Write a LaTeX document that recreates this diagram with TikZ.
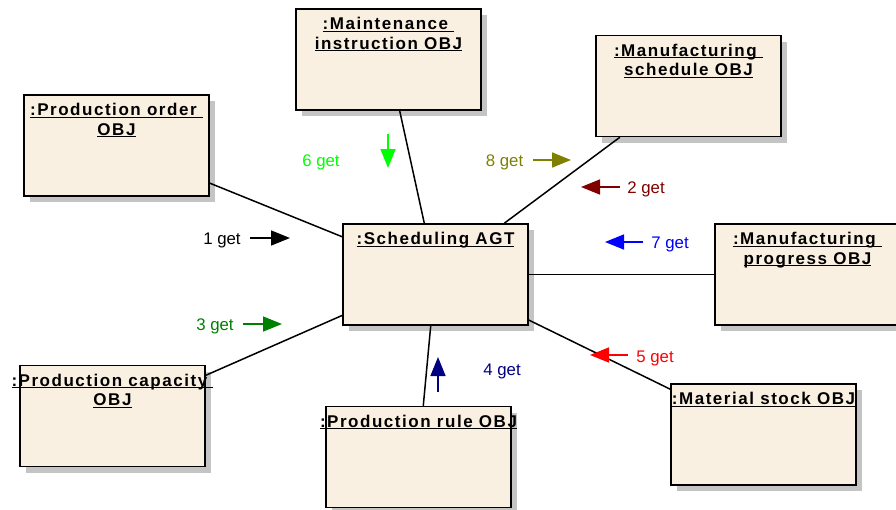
\documentclass[tikz,border=0pt]{standalone}
\usepackage{fontspec}
\setmainfont{Liberation Sans}
\newfontfamily\titlefont{Liberation Sans}[LetterSpace=9]
\usetikzlibrary{shadows,arrows.meta}

\definecolor{objfill}{HTML}{FAF0E2}
\definecolor{objshadow}{HTML}{C4C4C4}
\definecolor{msgdarkred}{HTML}{800000}
\definecolor{msggreen}{HTML}{008000}
\definecolor{msgnavy}{HTML}{000080}
\definecolor{msgred}{HTML}{FF0000}
\definecolor{msglime}{HTML}{00FF00}
\definecolor{msgblue}{HTML}{0000FF}
\definecolor{msgolive}{HTML}{808000}

% underline set slightly below the baseline, crossing descenders
\newcommand\objul[1]{\setbox0=\hbox{#1}\rlap{\rule[-2.2pt]{\wd0}{1.3pt}}\box0}

\tikzset{
  objbox/.style={rectangle, draw=black, line width=1.5pt, fill=objfill,
    minimum width=185pt, minimum height=101pt, inner sep=0pt,
    drop shadow={shadow xshift=6pt, shadow yshift=-6pt, fill=objshadow, opacity=1}},
  objtitle/.style={anchor=north, align=center, inner sep=0pt,
    font=\titlefont\bfseries\fontsize{17}{19.5}\selectfont},
  link/.style={draw=black, line width=1.5pt},
  msglabel/.style={anchor=base, inner sep=0pt, font=\fontsize{16.8}{20}\selectfont},
  msgarrow/.style={line width=1.6pt, -{Triangle[length=19pt, width=15pt]}},
}

\begin{document}
\begin{tikzpicture}[x=1pt, y=-1pt]
\useasboundingbox (0,0) rectangle (896,509);

% object boxes
\node[objbox] (po) at (116.5,145.5) {};
\node[objbox] (mi) at (388.5,59.5) {};
\node[objbox] (ms) at (688.5,86) {};
\node[objbox] (sa) at (435.5,274.5) {};
\node[objbox] (pc) at (112.5,416) {};
\node[objbox] (pr) at (418.5,457) {};
\node[objbox] (mp) at (807.5,274.5) {};
\node[objbox] (mt) at (763.5,434.5) {};

% object names
\node[objtitle] (pot) at ([yshift=-9pt]po.north) {\objul{:Production order\ }\\\objul{OBJ}};
\node[objtitle] (mit) at ([yshift=-9pt]mi.north) {\objul{:Maintenance\ }\\\objul{instruction OBJ}};
\node[objtitle] (mst) at ([yshift=-9pt]ms.north) {\objul{:Manufacturing\ }\\\objul{schedule OBJ}};
\node[objtitle] (sat) at ([yshift=-9pt]sa.north) {\objul{:Scheduling AGT}};
\node[objtitle] (pct) at ([yshift=-9pt]pc.north) {\objul{:Production capacity\ }\\\objul{OBJ}};
\node[objtitle] (prt) at ([yshift=-9pt]pr.north) {\objul{:Production rule OBJ}};
\node[objtitle] (mpt) at ([yshift=-9pt]mp.north) {\objul{:Manufacturing\ }\\\objul{progress OBJ}};
\node[objtitle] (mtt) at ([yshift=-9pt]mt.north) {\objul{:Material stock OBJ}};

% links between the agent and the objects
\path[link] (sa) -- (po);
\path[link] (sa) -- (mi);
\path[link] (sa) -- (ms);
\path[link] (sa) -- (mp);
\path[link] (sa) -- (mt);
\path[link] (sa) -- (pr);
\path[link] (sa) -- (pc);

% messages
\node[msglabel] (m1) at (222,244) {1 get};
\draw[msgarrow, black] (250,238) -- (290,238);
\node[msglabel, text=msgdarkred] (m2) at (646,193) {2 get};
\draw[msgarrow, msgdarkred] (620,187) -- (581,187);
\node[msglabel, text=msggreen] (m3) at (215,330) {3 get};
\draw[msgarrow, msggreen] (243,324) -- (282,324);
\node[msglabel, text=msgnavy] (m4) at (502,375) {4 get};
\draw[msgarrow, msgnavy] (438,392) -- (438,357);
\node[msglabel, text=msgred] (m5) at (655,362) {5 get};
\draw[msgarrow, msgred] (628,355) -- (590,355);
\node[msglabel, text=msglime] (m6) at (321,166) {6 get};
\draw[msgarrow, msglime] (388,134) -- (388,168);
\node[msglabel, text=msgblue] (m7) at (670,248) {7 get};
\draw[msgarrow, msgblue] (643,242) -- (605,242);
\node[msglabel, text=msgolive] (m8) at (504.5,166) {8 get};
\draw[msgarrow, msgolive] (533,160) -- (571,160);
\end{tikzpicture}
\end{document}
